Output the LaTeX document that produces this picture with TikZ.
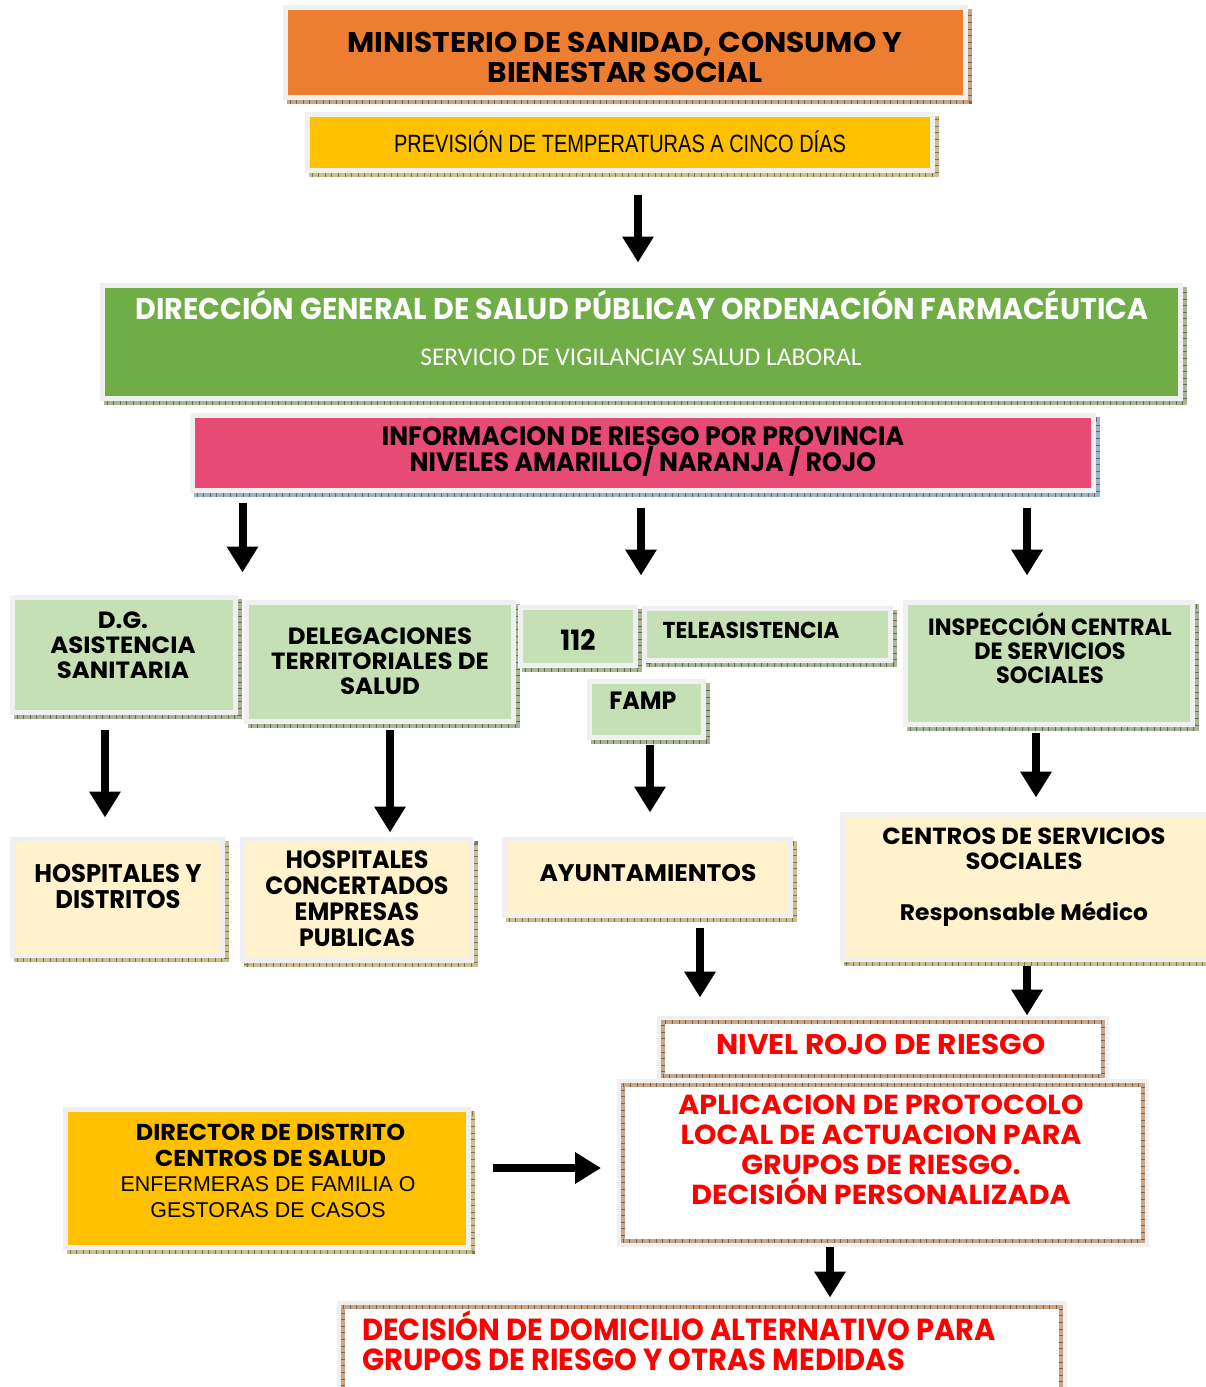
\documentclass[tikz,border=0pt]{standalone}
\usepackage{fontspec}
\setmainfont{Liberation Sans}
\newfontfamily\geofont[FakeStretch=1.04]{Poppins}
\newfontfamily\condfont[FakeStretch=0.95]{Poppins}
\newfontfamily\narrowfont[FakeStretch=0.8]{Liberation Sans}
\newfontfamily\servfont{Carlito}
\usetikzlibrary{positioning,arrows.meta,calc}
\newcommand{\fsz}[2]{\fontsize{#1}{#2}\selectfont}

\definecolor{mpOrange}{HTML}{ED7D31}
\definecolor{mpYellow}{HTML}{FFC000}
\definecolor{mpGreen}{HTML}{70AD47}
\definecolor{mpPink}{HTML}{E84A76}
\definecolor{mpLight}{HTML}{C5E0B4}
\definecolor{mpBeige}{HTML}{FFF2CC}
\definecolor{mpFrame}{HTML}{F0F0F0}
\definecolor{shBrown}{HTML}{C8A68C}
\definecolor{shKhaki}{HTML}{CBBF92}
\definecolor{shGreen}{HTML}{A8B698}
\definecolor{shBlue}{HTML}{A0B2C8}
\definecolor{mpRed}{HTML}{FF0000}

\tikzstyle{frame} = [draw=mpFrame, line width=5pt, inner sep=0pt]
\tikzstyle{redframe} = [draw=shBrown, fill=white, line width=4pt, inner sep=0pt,
  preaction={draw=mpFrame, line width=12pt},
  postaction={draw=shBrown!60!black, line width=4pt, dash pattern=on 0.6pt off 6pt}]
\tikzstyle{txt} = [align=center, inner sep=0pt]
\tikzstyle{arrow} = [line width=8pt, -{Triangle[width=30pt,length=26pt]}]
\tikzset{
  rim/.style={
    preaction={fill=#1, draw=#1, line width=5pt, transform canvas={xshift=4pt,yshift=-4pt}},
    preaction={draw=#1!60!black, line width=5pt, dash pattern=on 0.6pt off 6pt,
      transform canvas={xshift=4pt,yshift=-4pt}}},
  dims/.style 2 args={minimum width=#1pt, minimum height=#2pt}
}

\begin{document}
\begin{tikzpicture}[x=1pt,y=-1pt]
  \useasboundingbox (0,0) rectangle (1206,1387);

  % top
  \node[frame, rim=shBrown, fill=mpOrange, dims={680}{90}] (mini) at (625.5,52.5) {};
  \node[txt, font={\geofont\bfseries\fsz{28.5}{30}}] (mini-t) at (625,57)
    {MINISTERIO DE SANIDAD, CONSUMO Y\\BIENESTAR SOCIAL};
  \node[frame, rim=shKhaki, fill=mpYellow, dims={625}{56}] (prev) at (620,142.5) {};
  \node[txt, font={\narrowfont\fsz{25}{25}}] (prev-t) at (620,142)
    {PREVISIÓN DE TEMPERATURAS A CINCO DÍAS};

  \node[frame, rim=shGreen, fill=mpGreen, dims={1078}{113}] (dgsp) at (641.5,342) {};
  \node[txt, text=white, font={\condfont\bfseries\fsz{30}{30}}] (dgsp-t) at (642,305)
    {DIRECCIÓN GENERAL DE SALUD PÚBLICAY ORDENACIÓN FARMACÉUTICA};
  \node[txt, text=white, font={\servfont\fsz{25.5}{25.5}}] (dgsp-s) at (641,357)
    {SERVICIO DE VIGILANCIAY SALUD LABORAL};

  \node[frame, rim=shBlue, fill=mpPink, dims={901}{75}] (info) at (643,453) {};
  \node[txt, font={\condfont\bfseries\fsz{26.5}{26}}] (info-t) at (643,452)
    {INFORMACION DE RIESGO POR PROVINCIA\\NIVELES AMARILLO/ NARANJA / ROJO};

  % second level
  \node[frame, rim=shGreen, fill=mpLight, dims={223}{115}] (dgas) at (124,655) {};
  \node[txt, font={\geofont\bfseries\fsz{23.5}{25}}] (dgas-t) at (123,645)
    {D.G.\\ASISTENCIA\\SANITARIA};
  \node[frame, rim=shGreen, fill=mpLight, dims={267}{119}] (dele) at (380,662) {};
  \node[txt, font={\geofont\bfseries\fsz{23.5}{25}}] (dele-t) at (380,661)
    {DELEGACIONES\\TERRITORIALES DE\\SALUD};
  \node[frame, rim=shGreen, fill=mpLight, dims={115}{58}] (n112) at (578,636.5) {};
  \node[txt, font={\condfont\bfseries\fsz{28}{28}}] (n112-t) at (578,640) {112};
  \node[frame, rim=shGreen, fill=mpLight, dims={246}{52}] (tele) at (767.5,634.5) {};
  \node[txt, font={\condfont\bfseries\fsz{23}{23}}] (tele-t) at (751,630) {TELEASISTENCIA};
  \node[frame, rim=shGreen, fill=mpLight, dims={114}{56}] (famp) at (646.5,709.5) {};
  \node[txt, font={\condfont\bfseries\fsz{25}{25}}] (famp-t) at (643,701) {FAMP};
  \node[frame, rim=shGreen, fill=mpLight, dims={287}{122}] (insp) at (1049,663.5) {};
  \node[txt, font={\condfont\bfseries\fsz{23.5}{24}}] (insp-t) at (1050,648)
    {INSPECCIÓN CENTRAL\\DE SERVICIOS\\SOCIALES};

  % third level
  \node[frame, rim=shKhaki, fill=mpBeige, dims={210}{116}] (hosp) at (117.5,897.5) {};
  \node[txt, font={\condfont\bfseries\fsz{25.5}{26}}] (hosp-t) at (118,886)
    {HOSPITALES Y\\DISTRITOS};
  \node[frame, rim=shKhaki, fill=mpBeige, dims={229}{121}] (conc) at (357,900) {};
  \node[txt, font={\condfont\bfseries\fsz{25}{26}}] (conc-t) at (357,899)
    {HOSPITALES\\CONCERTADOS\\EMPRESAS\\PUBLICAS};
  \node[frame, rim=shKhaki, fill=mpBeige, dims={286}{76}] (ayun) at (647.5,877.5) {};
  \node[txt, font={\geofont\bfseries\fsz{24}{24}}] (ayun-t) at (648,873) {AYUNTAMIENTOS};
  \node[frame, rim=shKhaki, fill=mpBeige, dims={370}{145}] (cent) at (1027,887) {};
  \node[txt, font={\geofont\bfseries\fsz{23.3}{25}}] (cent-t) at (1024,877.5)
    {CENTROS DE SERVICIOS\\SOCIALES\\[26pt]{\fsz{22.5}{25}Responsable Médico}};

  % red level
  \node[redframe, dims={440}{54}] (nivel) at (882.5,1049) {};
  \node[txt, text=mpRed, font={\geofont\bfseries\fsz{28.4}{28}}] (nivel-t) at (881,1044)
    {NIVEL ROJO DE RIESGO};
  \node[redframe, dims={520}{156}] (apli) at (882.5,1162.5) {};
  \node[txt, text=mpRed, font={\geofont\bfseries\fsz{27.5}{30}}] (apli-t) at (881,1150)
    {APLICACION DE PROTOCOLO\\LOCAL DE ACTUACION PARA\\GRUPOS DE RIESGO.\\DECISIÓN PERSONALIZADA};
  \node[frame, rim=shKhaki, fill=mpYellow, dims={403}{138}] (dire) at (267,1178.5) {};
  \node[txt, font={\fsz{21.4}{25.5}}] (dire-t) at (268,1171)
    {{\geofont\bfseries\fsz{23}{25} DIRECTOR DE DISTRITO}\\{\geofont\bfseries\fsz{23}{25} CENTROS DE SALUD}\\ENFERMERAS DE FAMILIA O\\GESTORAS DE CASOS};
  \node[redframe, dims={718}{83}] (deci) at (701.5,1348.5) {};
  \node[txt, align=left, anchor=west, text=mpRed, font={\condfont\bfseries\fsz{30.5}{30}}] (deci-t) at (362,1341)
    {DECISIÓN DE DOMICILIO ALTERNATIVO PARA\\GRUPOS DE RIESGO Y OTRAS MEDIDAS};

  % arrows
  \draw[arrow, shorten <=21.5pt, shorten >=20.5pt] ([xshift=18pt]prev.south) -- ([xshift=18pt]prev.south |- dgsp.north);
  \draw[arrow, shorten <=9.5pt, shorten >=22.5pt] ([xshift=4.5pt]info.south -| dgas.east) -- ([xshift=4.5pt]dgas.north east);
  \draw[arrow, shorten <=14.5pt, shorten >=30.5pt] ([xshift=-2pt]info.south) -- ([xshift=-2pt]info.south |- tele.north);
  \draw[arrow, shorten <=14.5pt, shorten >=24.5pt] ([xshift=-22pt]info.south -| insp.north) -- ([xshift=-22pt]insp.north);
  \draw[arrow, shorten <=14.5pt, shorten >=19.5pt] ([xshift=-19pt]dgas.south) -- ([xshift=-19pt]dgas.south |- hosp.north);
  \draw[arrow, shorten <=5.5pt, shorten >=4.5pt] ([xshift=10pt]dele.south) -- ([xshift=10pt]dele.south |- conc.north);
  \draw[arrow, shorten <=4.5pt, shorten >=24.5pt] ([xshift=3.5pt]famp.south) -- ([xshift=3.5pt]famp.south |- ayun.north);
  \draw[arrow, shorten <=5.5pt, shorten >=14.5pt] ([xshift=-13pt]insp.south) -- ([xshift=-13pt]insp.south |- cent.north);
  \draw[arrow, shorten <=9.5pt, shorten >=22.5pt] ([xshift=52.5pt]ayun.south) -- ([xshift=52.5pt]ayun.south |- nivel.north);
  \draw[arrow, shorten <=3.5pt, shorten >=4.5pt] (cent.south) -- (cent.south |- nivel.north);
  \draw[arrow, shorten <=21.5pt, shorten >=19.5pt] ([yshift=10.5pt]dire.east) -- ([yshift=10.5pt]dire.east -| apli.west);
  \draw[arrow, shorten <=4.5pt, shorten >=7.5pt] ([xshift=-52.5pt]apli.south) -- ([xshift=-52.5pt]apli.south |- deci.north);
\end{tikzpicture}
\end{document}
